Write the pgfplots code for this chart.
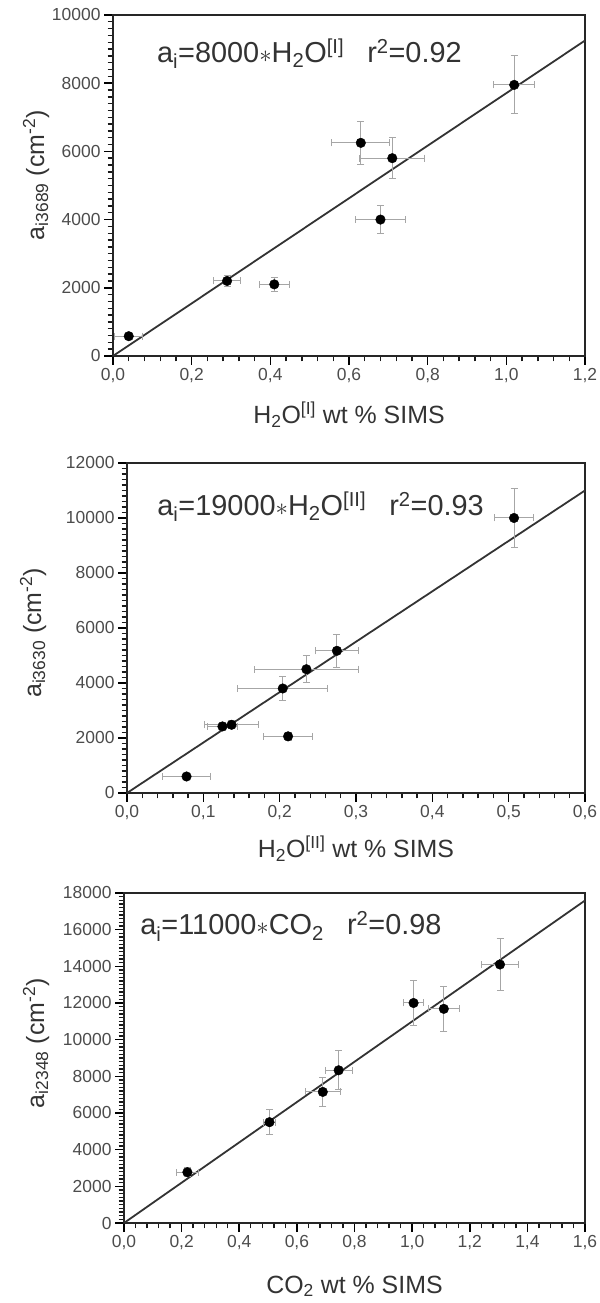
\documentclass[border=0pt]{standalone}
\usepackage{fontspec}
\setmainfont{Liberation Sans}
\usepackage{pgfplots}
\usepackage{pgfplotstable}
\pgfplotsset{compat=1.18}

% x, y, x error, y error
\pgfplotstableread{
x     y      ex     ey
0.040 580    0.035  70
0.290 2200   0.035  150
0.410 2100   0.038  200
0.630 6250   0.074  630
0.710 5800   0.083  600
0.680 4000   0.064  420
1.020 7950   0.052  850
}\waterone

\pgfplotstableread{
x     y      ex     ey
0.078 600    0.031  100
0.125 2420   0.020  150
0.137 2480   0.035  150
0.211 2060   0.032  150
0.204 3800   0.059  420
0.235 4500   0.068  500
0.275 5170   0.028  600
0.507 10000  0.025  1070
}\watertwo

\pgfplotstableread{
x     y      ex     ey
0.220 2770   0.037  250
0.505 5500   0.020  690
0.690 7150   0.060  770
0.745 8330   0.047  1060
1.005 12000  0.035  1240
1.110 11680  0.053  1240
1.305 14100  0.063  1400
}\carbon

\tikzset{
  eqlabel/.style={anchor=base west, font=\fontsize{29}{29}\selectfont, text=black!80, inner sep=0pt},
}

\pgfplotsset{
  panel/.style={
    scale only axis,
    anchor=south west,
    axis line style={line width=2.2bp, black!85},
    tick style={line width=1.5bp, black},
    major tick style={line width=1.6bp, black},
    minor tick style={line width=1.4bp, black!90},
    major tick length=9bp,
    minor tick length=5.5bp,
    tick align=outside,
    xtick pos=bottom, ytick pos=left,
    xmin=0, ymin=0,
    minor x tick num=4,
    minor y tick num=9,
    scaled ticks=false,
    ticklabel style={font=\fontsize{17.5}{17.5}\selectfont, text=black!70},
    xticklabel style={/pgf/number format/.cd, use comma, fixed, fixed zerofill, precision=1, assume math mode=true},
    yticklabel style={/pgf/number format/.cd, 1000 sep={}, assume math mode=true},
    xtick distance=0.2,
    ytick distance=2000,
    label style={font=\fontsize{25}{25}\selectfont, text=black!80},
  },
  fitline/.style={no marks, line width=1.8bp, black!80},
  datapts/.style={only marks, mark=*, black, mark size=4.8bp,
    mark options={fill=black},
    error bars/.cd,
      x dir=both, x explicit,
      y dir=both, y explicit,
      error bar style={gray!70, line width=1bp},
      error mark options={rotate=90, mark size=3.5bp, gray!70, line width=1bp}},
}

\begin{document}
\begin{tikzpicture}[x=1bp, y=1bp]
\useasboundingbox (0,0) rectangle (600,1303);

% H2O [I]
\begin{axis}[panel,
  at={(113bp,947bp)}, width=472bp, height=341bp,
  xmax=1.2, ymax=10000,
  xlabel={H\textsubscript{2}O\textsuperscript{[I]} wt \% SIMS},
  ylabel={a\textsubscript{i3689} (cm\textsuperscript{-2})},
  xlabel style={at={([yshift=-68bp]axis description cs:0.5,0)}, anchor=base},
  ylabel style={at={([xshift=-77bp]axis description cs:0,0.53)}, anchor=center},
]
\addplot[fitline] coordinates {(0,0) (1.2,9250)};
\addplot[datapts] table[x=x, y=y, x error=ex, y error=ey] {\waterone};
\node[eqlabel] at (axis description cs:0.093,0.862)
  {a\textsubscript{i}=8000$\ast$H\textsubscript{2}O\textsuperscript{[I]}\hspace{0.8em}r\textsuperscript{2}=0.92};
\end{axis}

% H2O [II]
\begin{axis}[panel,
  at={(127bp,510bp)}, width=458bp, height=330bp,
  xmax=0.6, ymax=12000,
  xtick distance=0.1,
  xlabel={H\textsubscript{2}O\textsuperscript{[II]} wt \% SIMS},
  ylabel={a\textsubscript{i3630} (cm\textsuperscript{-2})},
  xlabel style={at={([yshift=-65bp]axis description cs:0.5,0)}, anchor=base},
  ylabel style={at={([xshift=-94bp]axis description cs:0,0.485)}, anchor=center},
]
\addplot[fitline] coordinates {(0,0) (0.6,11000)};
\addplot[datapts] table[x=x, y=y, x error=ex, y error=ey] {\watertwo};
\node[eqlabel] at (axis description cs:0.066,0.842)
  {a\textsubscript{i}=19000$\ast$H\textsubscript{2}O\textsuperscript{[II]}\hspace{0.8em}r\textsuperscript{2}=0.93};
\end{axis}

% CO2
\begin{axis}[panel,
  at={(124bp,80bp)}, width=461bp, height=330bp,
  xmax=1.6, ymax=18000,
  xlabel={CO\textsubscript{2} wt \% SIMS},
  ylabel={a\textsubscript{i2348} (cm\textsuperscript{-2})},
  xlabel style={at={([yshift=-70bp]axis description cs:0.5,0)}, anchor=base},
  ylabel style={at={([xshift=-88bp]axis description cs:0,0.545)}, anchor=center},
]
\addplot[fitline] coordinates {(0,0) (1.6,17590)};
\addplot[datapts] table[x=x, y=y, x error=ex, y error=ey] {\carbon};
\node[eqlabel] at (axis description cs:0.035,0.873)
  {a\textsubscript{i}=11000$\ast$CO\textsubscript{2}\hspace{0.8em}r\textsuperscript{2}=0.98};
\end{axis}
\end{tikzpicture}
\end{document}
